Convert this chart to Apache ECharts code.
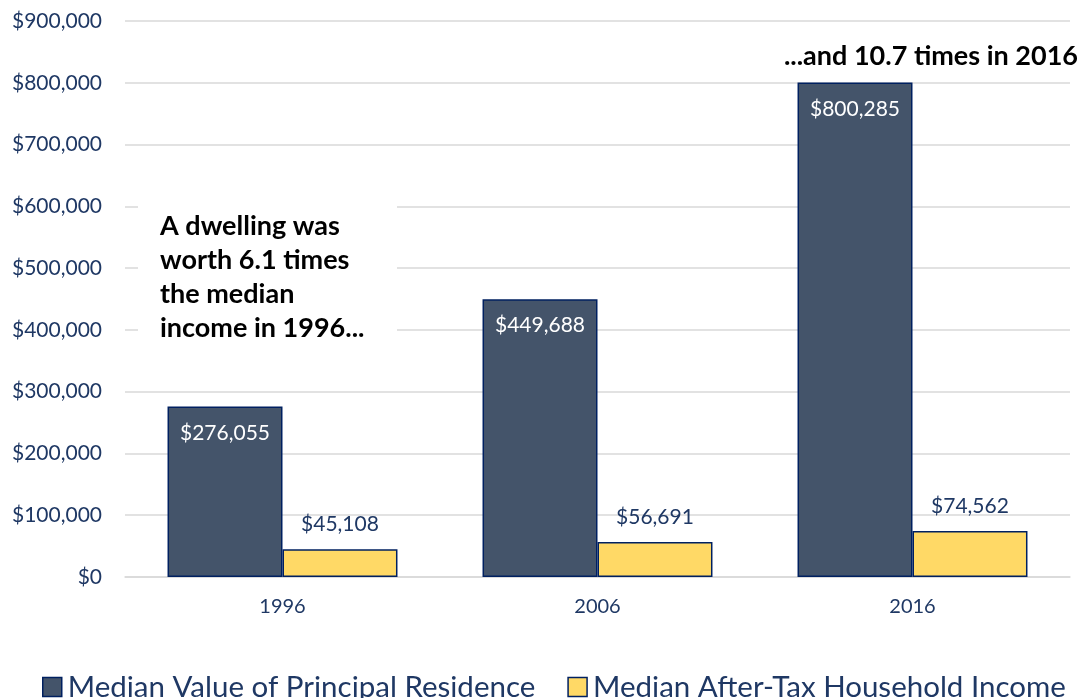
<!DOCTYPE html>
<html>
<head>
<meta charset="utf-8">
<script src="https://cdn.jsdelivr.net/npm/echarts@6/dist/echarts.min.js"></script>
<style>
  html, body { margin: 0; padding: 0; background: #fff; }
  #main { width: 1081px; height: 698px; }
</style>
</head>
<body>
<div id="main"></div>
<script>
var years = ["1996", "2006", "2016"];
var residenceValues = [276055, 449688, 800285];
var incomeValues = [45108, 56691, 74562];
var seriesNames = ["Median Value of Principal Residence", "Median After-Tax Household Income"];

var navy = "#1F3864";
var font = "Lato";

function money(v) {
  return "$" + v.toLocaleString("en-US");
}

var chart = echarts.init(document.getElementById("main"));
var option = {
  animation: false,
  textStyle: { fontFamily: font },
  grid: { left: 125, right: 11, top: 21, bottom: 121 },
  legend: {
    top: 667,
    left: 37,
    icon: "rect",
    itemWidth: 19,
    itemHeight: 19,
    itemGap: 32,
    textStyle: { fontSize: 29.5, color: navy, fontFamily: font, padding: [0, 0, 0, 1] },
    data: [
      { name: seriesNames[0], itemStyle: { borderColor: "#002060", borderWidth: 1.5 } },
      { name: seriesNames[1], itemStyle: { borderColor: "#002060", borderWidth: 1.5 } }
    ]
  },
  xAxis: {
    type: "category",
    data: years,
    axisTick: { show: false },
    axisLine: { lineStyle: { color: "#d9d9d9", width: 1.5 } },
    axisLabel: { color: navy, fontSize: 20, margin: 20 }
  },
  yAxis: {
    type: "value",
    min: 0,
    max: 900000,
    interval: 100000,
    axisLabel: {
      color: navy,
      fontSize: 21,
      margin: 23,
      formatter: function (v) { return money(v); }
    },
    splitLine: { lineStyle: { color: "#d9d9d9", width: 1.5 } }
  },
  series: [
    {
      name: seriesNames[0],
      type: "bar",
      data: residenceValues,
      barGap: "0%",
      barCategoryGap: "27%",
      itemStyle: { color: "#44546A", borderColor: "#002060", borderWidth: 1.5 },
      label: {
        show: true,
        position: "insideTop",
        distance: 16,
        color: "#ffffff",
        fontSize: 21,
        formatter: function (p) { return money(p.value); }
      }
    },
    {
      name: seriesNames[1],
      type: "bar",
      data: incomeValues,
      itemStyle: { color: "#FFD966", borderColor: "#002060", borderWidth: 1.5 },
      label: {
        show: true,
        position: "top",
        distance: 14,
        color: navy,
        fontSize: 21,
        formatter: function (p) { return money(p.value); }
      }
    }
  ],
  graphic: [
    {
      type: "rect",
      shape: { x: 138, y: 195, width: 259, height: 150 },
      style: { fill: "#ffffff" },
      z: 10
    },
    {
      type: "text",
      left: 160,
      top: 209,
      z: 11,
      style: {
        text: "A dwelling was\nworth 6.1 times\nthe median\nincome in 1996...",
        font: "bold 27px Lato",
        fill: "#000",
        lineHeight: 34
      }
    },
    {
      type: "text",
      right: 3,
      top: 39,
      z: 11,
      style: {
        text: "...and 10.7 times in 2016",
        font: "bold 27px Lato",
        fill: "#000",
        lineHeight: 34
      }
    }
  ]
};
chart.setOption(option);
</script>
</body>
</html>
